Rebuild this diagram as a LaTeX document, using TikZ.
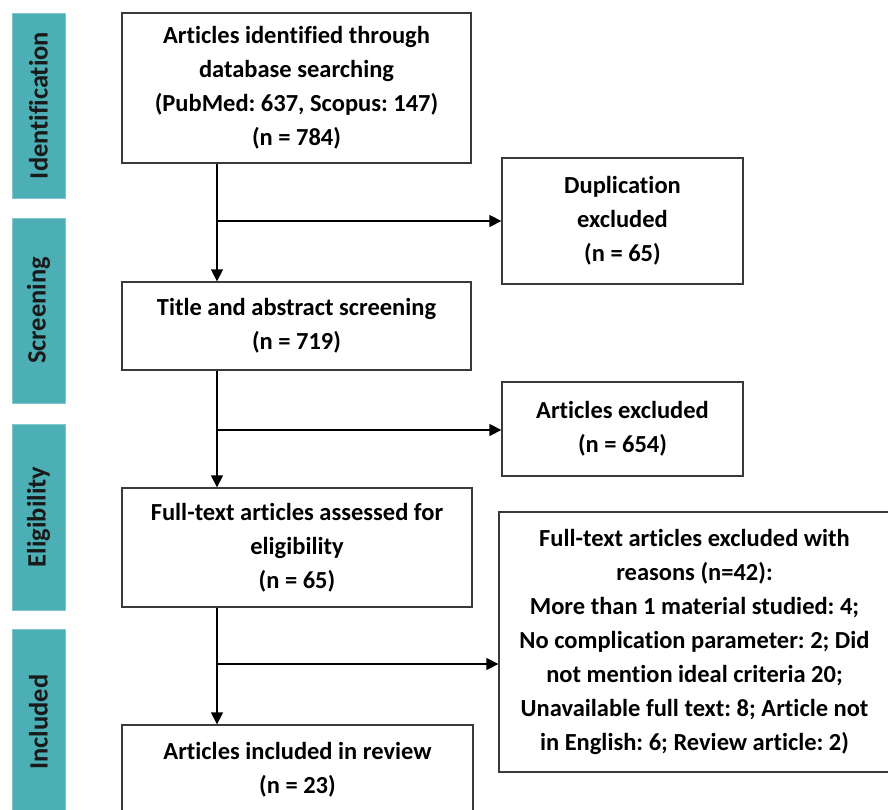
\documentclass[tikz,border=0pt]{standalone}
\usepackage{fontspec}
\setmainfont[Ligatures=NoCommon]{Carlito}
\usetikzlibrary{arrows.meta}
\definecolor{teal1}{HTML}{4BAFB5}
\definecolor{boxline}{HTML}{3A3A3A}
\frenchspacing
\tikzset{
  box/.style={draw=boxline, line width=1.3pt, fill=white, align=center, inner sep=0pt,
    font=\fontsize{24.5}{34}\selectfont\bfseries\frenchspacing},
  phase/.style={fill=teal1, draw=teal1!70!white, line width=0.5pt, inner sep=0pt,
    minimum width=53pt, font=\fontsize{26.5}{28}\selectfont\bfseries, text=black!90},
  arr/.style={line width=1.3pt, -{Triangle[length=12pt,width=12pt]}},
  ln/.style={line width=1.3pt}
}
\begin{document}
\begin{tikzpicture}[x=1pt,y=-1pt]
\useasboundingbox (0,0) rectangle (888,810);
% phase bars
\node[phase, minimum height=185pt] (pid) at (38.5,105.5) {\rotatebox{90}{Identification}};
\node[phase, minimum height=185pt] (psc) at (38.5,310.5) {\rotatebox{90}{Screening}};
\node[phase, minimum height=186pt] (pel) at (38.5,517) {\rotatebox{90}{Eligibility}};
\node[phase, minimum height=186pt] (pin) at (38.5,722) {\rotatebox{90}{Included}};
% main boxes
\node[box, minimum width=349pt, minimum height=150pt] (b1) at (296.5,88)
  {Articles identified through\\database searching\\(PubMed: 637, Scopus: 147)\\(n = 784)};
\node[box, minimum width=349pt, minimum height=88pt] (b2) at (296.5,326)
  {Title and abstract screening\\(n = 719)};
\node[box, minimum width=350pt, minimum height=119pt] (b3) at (297,547.5)
  {Full-text articles assessed for\\eligibility\\(n = 65)};
\node[box, minimum width=351pt, minimum height=90pt] (b4) at (297.5,770)
  {Articles included in review\\(n = 23)};
% side boxes
\node[box, minimum width=241pt, minimum height=126pt] (s1) at (622.5,221)
  {Duplication\\excluded\\(n = 65)};
\node[box, minimum width=241pt, minimum height=94pt] (s2) at (622.5,429)
  {Articles excluded\\(n = 654)};
\node[box, minimum width=391pt, minimum height=260pt] (s3) at (694.5,642)
  {Full-text articles excluded with\\reasons (n=42):\\More than 1 material studied: 4;\\No complication parameter: 2; Did\\not mention ideal criteria 20;\\Unavailable full text: 8; Article not\\in English: 6; Review article: 2)};
% junctions
\coordinate (j1) at (217,221);
\coordinate (j2) at (217,430);
\coordinate (j3) at (217,664);
% connectors
\draw[arr] (b1.south -| j1) -- (b2.north -| j1);
\draw[arr] (j1) -- (s1.west |- j1);
\draw[arr] (b2.south -| j2) -- (b3.north -| j2);
\draw[arr] (j2) -- (s2.west |- j2);
\draw[arr] (b3.south -| j3) -- (b4.north -| j3);
\draw[arr] (j3) -- (s3.west |- j3);
\end{tikzpicture}
\end{document}
